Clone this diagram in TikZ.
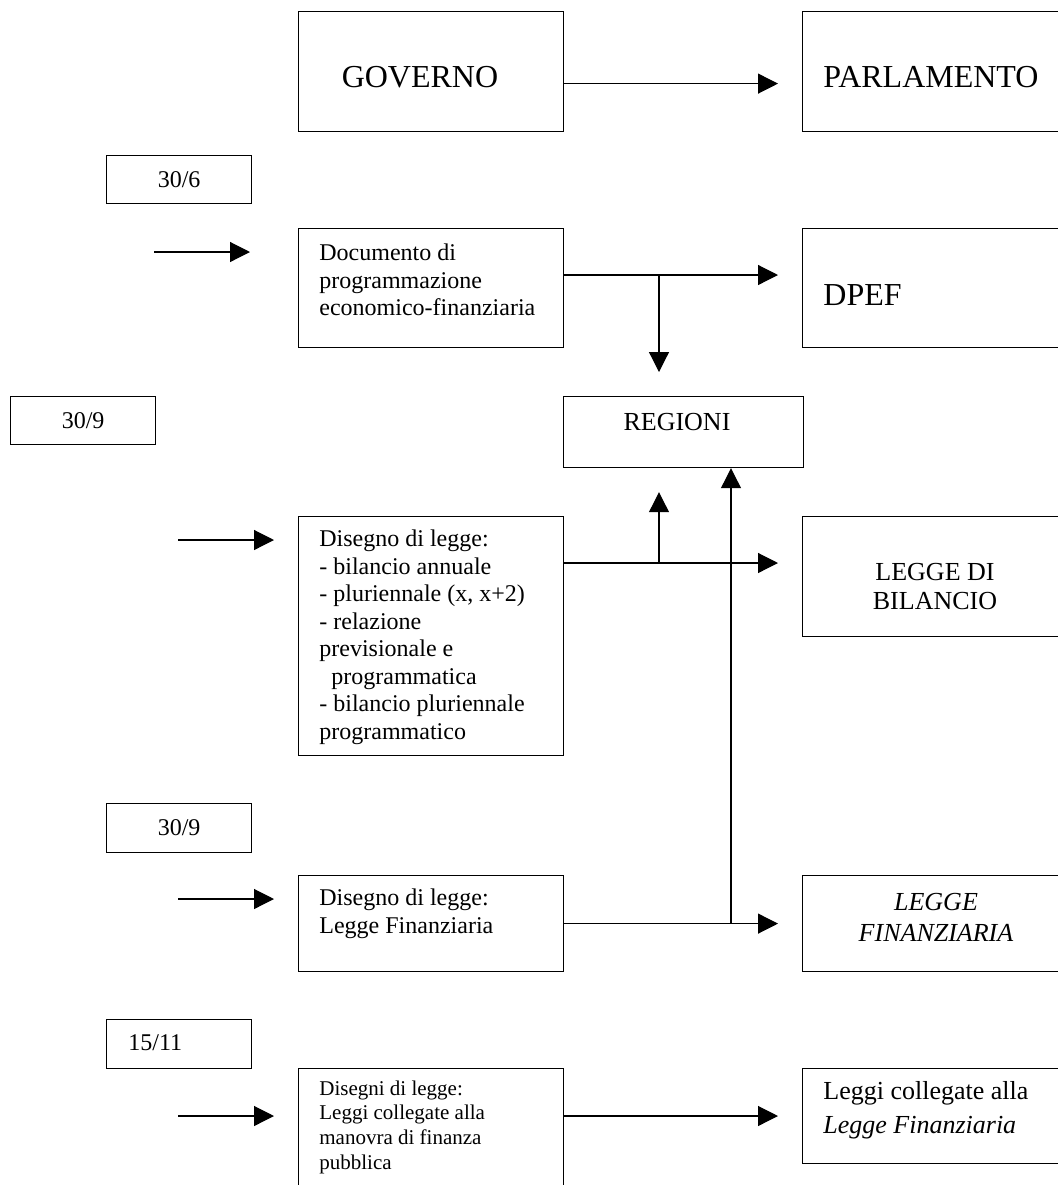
\documentclass[tikz,border=0pt]{standalone}
\usepackage{fontspec}
\setmainfont{Liberation Serif}
\usetikzlibrary{arrows.meta, positioning, calc}

\begin{document}
\begin{tikzpicture}[
    x=0.5pt, y=-0.5pt,
    box/.style={draw, line width=0.6pt, anchor=north west, inner sep=0pt, minimum width=132.5pt},
    outbox/.style={draw, line width=0.6pt, anchor=north west, inner sep=0pt, minimum width=140pt},
    datebox/.style={draw, line width=0.6pt, anchor=north west, inner sep=0pt, minimum width=72.5pt, minimum height=24pt, font=\fontsize{12pt}{14pt}\selectfont},
    txt/.style={anchor=west, inner sep=0pt, align=left, font=\fontsize{12pt}{13.75pt}\selectfont},
    bigtxt/.style={inner sep=0pt, font=\fontsize{16pt}{18pt}\selectfont},
    midtxt/.style={inner sep=0pt, align=center, font=\fontsize{13pt}{14.5pt}\selectfont},
    arr/.style={line width=0.6pt, -{Triangle[length=10pt, width=10pt]}},
    gap/.style={shorten >=12pt}
]

    \useasboundingbox (0,0) rectangle (1058,1185);
    \clip (0,0) rectangle (1058,1185);

    % --- Government side ---
    \node[box, minimum height=60pt] (gov) at (298,11) {};
    \node[box, minimum height=59.5pt] (doc) at (298,228) {};
    \node[box, minimum height=119.5pt] (ddlbil) at (298,516) {};
    \node[box, minimum height=48pt] (ddlfin) at (298,875) {};
    \node[box, minimum height=70pt] (ddlcoll) at (298,1068) {};

    % --- Parliament side ---
    \node[outbox, minimum height=60pt] (parl) at (802,11) {};
    \node[outbox, minimum height=59.5pt] (dpef) at (802,228) {};
    \node[outbox, minimum height=60pt] (bil) at (802,516) {};
    \node[outbox, minimum height=48pt] (fin) at (802,875) {};
    \node[outbox, minimum height=47.5pt] (coll) at (802,1068) {};

    % --- Regions ---
    \node[box, minimum width=120pt, minimum height=35.5pt] (reg) at (563,396) {};

    % --- Deadlines ---
    \node[datebox] (d306) at (106,155) {30/6};
    \node[datebox] (d309a) at (10,396) {30/9};
    \node[datebox, minimum height=24.5pt] (d309b) at (106,803) {30/9};
    \node[datebox, minimum height=24.5pt] (d1511) at (106,1019) {};
    \node[txt] (d1511-t) at (128,1043) {15/11};

    % --- Texts ---
    \node[bigtxt] (gov-t) at (420,77) {GOVERNO};
    \node[bigtxt, anchor=west] (parl-t) at (823,77) {PARLAMENTO};
    \node[bigtxt, anchor=west] (dpef-t) at (823,295) {DPEF};
    \node[midtxt] (reg-t) at (677,422) {REGIONI};
    \node[midtxt] (bil-t) at (935,587) {LEGGE DI\\BILANCIO};
    \node[midtxt, font=\fontsize{13pt}{15.5pt}\selectfont\itshape] (fin-t) at (936,917) {LEGGE\\FINANZIARIA};
    \node[txt, font=\fontsize{13pt}{17pt}\selectfont] (coll-t) at (823,1110) {Leggi collegate alla\\\textit{Legge Finanziaria}};

    \node[txt] (doc-t) at (319,280) {Documento di\\programmazione\\economico-finanziaria};
    \node[txt] (ddlbil-t) at (319,637) {Disegno di legge:\\- bilancio annuale\\- pluriennale (x, x+2)\\- relazione\\previsionale e\\\hspace*{6pt}programmatica\\- bilancio pluriennale\\programmatico};
    \node[txt] (ddlfin-t) at (319,914) {Disegno di legge:\\Legge Finanziaria};
    \node[txt, font=\fontsize{10.5pt}{12.35pt}\selectfont] (ddlcoll-t) at (319,1127) {Disegni di legge:\\Leggi collegate alla\\manovra di finanza\\pubblica};

    % --- Incoming arrows ---
    \coordinate (in1) at (154,252);
    \coordinate (in2) at (178,540);
    \coordinate (in3) at (178,899);
    \coordinate (in4) at (178,1116);
    \draw[arr, shorten >=24pt] (in1) -- (doc.west |- in1);
    \draw[arr, gap] (in2) -- (ddlbil.west |- in2);
    \draw[arr, gap] (in3) -- (ddlfin.west |- in3);
    \draw[arr, gap] (in4) -- (ddlcoll.west |- in4);

    % --- Junctions ---
    \coordinate (j1) at (659,275);
    \coordinate (j2) at (659,563);
    \coordinate (j3) at (731,923);

    % --- Flows ---
    \draw[arr, gap] ([yshift=-6pt]gov.east) -- ([yshift=-6pt]parl.west);
    \draw[arr, gap] (doc.east |- j1) -- (dpef.west |- j1);
    \draw[arr, gap] (j1) -- (reg.north -| j1);
    \draw[arr, gap] (ddlbil.east |- j2) -- (bil.west |- j2);
    \draw[arr, gap] (j2) -- (reg.south -| j2);
    \draw[arr, gap] (ddlfin.east) -- (fin.west);
    \draw[arr] (j3) -- (reg.south -| j3);
    \draw[arr, gap] (ddlcoll.east |- in4) -- (coll.west |- in4);

\end{tikzpicture}
\end{document}
